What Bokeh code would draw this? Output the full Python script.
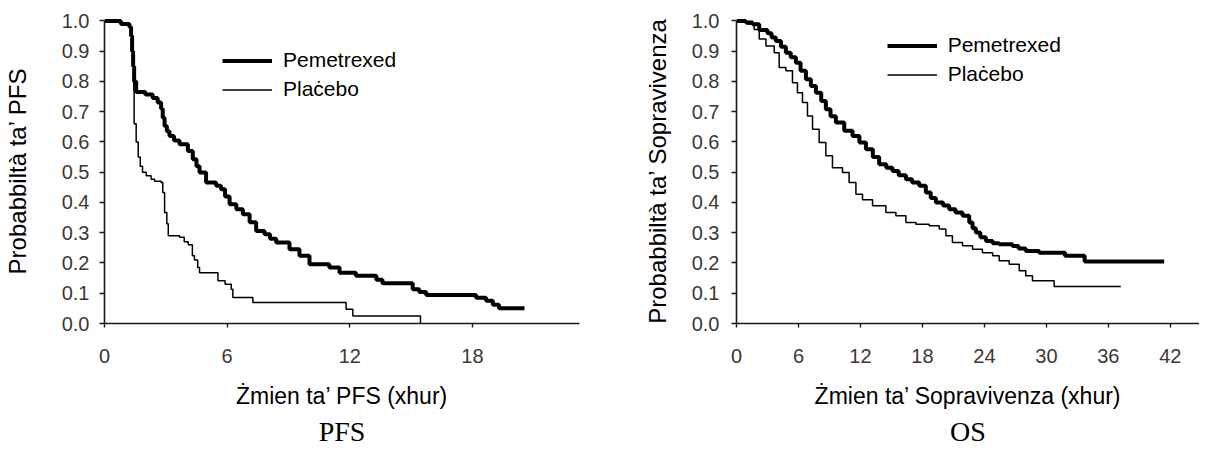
from bokeh.plotting import figure
from bokeh.models import (Range1d, FixedTicker, Legend, LegendItem, Title,
                          NumeralTickFormatter)
from bokeh.layouts import row
from bokeh.embed import file_html
from bokeh.resources import INLINE

# ---------------- data ----------------
# PFS (months, survival probability), step after each time point
pfs_pem_t = [0, 0.8, 1.22, 1.3, 1.35, 1.4, 1.45, 1.55, 2.0, 2.36, 2.6, 2.77, 2.85, 2.94,
             3.05, 3.18, 3.4, 3.67, 4.08, 4.32, 4.5, 4.65, 4.97, 5.46, 5.7, 5.9, 6.12,
             6.45, 6.77, 7.1, 7.42, 7.83, 8.1, 8.4, 9.05, 9.54, 10.03, 11.0, 11.5, 12.3,
             13.3, 13.6, 15.08, 15.4, 15.74, 18.18, 18.67, 19.0, 19.3, 20.55]
pfs_pem_s = [1.0, 0.99, 0.98, 0.95, 0.90, 0.85, 0.80, 0.765, 0.757, 0.745, 0.73, 0.71, 0.68,
             0.653, 0.635, 0.62, 0.605, 0.592, 0.57, 0.543, 0.52, 0.499, 0.466, 0.455, 0.444,
             0.42, 0.394, 0.378, 0.361, 0.335, 0.306, 0.295, 0.28, 0.268, 0.245, 0.224,
             0.196, 0.185, 0.168, 0.158, 0.145, 0.133, 0.113, 0.104, 0.094, 0.085, 0.075,
             0.062, 0.05, 0.05]

pfs_pla_t = [0, 0.8, 1.22, 1.3, 1.38, 1.43, 1.45, 1.55, 1.65, 1.75, 1.86, 2.04, 2.28, 2.45,
             2.77, 2.85, 2.94, 3.05, 3.12, 3.67, 3.9, 4.1, 4.3, 4.4, 4.56, 4.65, 5.55, 5.9,
             6.2, 6.28, 7.26, 11.82, 12.15, 15.46]
pfs_pla_s = [1.0, 0.99, 0.98, 0.95, 0.88, 0.77, 0.66, 0.60, 0.55, 0.52, 0.50, 0.488, 0.477,
             0.47, 0.466, 0.433, 0.367, 0.33, 0.29, 0.285, 0.27, 0.26, 0.224, 0.21, 0.185,
             0.168, 0.141, 0.13, 0.113, 0.086, 0.069, 0.047, 0.025, 0.0]

# OS
os_pem_t = [0, 0.9, 1.55, 2.2, 3.0, 3.4, 3.81, 4.3, 4.78, 5.25, 5.75, 6.2, 6.72, 7.2, 7.69,
            8.2, 8.65, 9.1, 9.62, 10.43, 11.23, 11.9, 12.53, 13.2, 13.81, 14.5, 15.1, 15.7,
            16.4, 17.0, 17.69, 18.33, 18.8, 19.3, 20.0, 20.59, 21.2, 21.88, 22.53, 22.85,
            23.17, 23.6, 24.14, 24.8, 25.43, 26.72, 27.3, 28.0, 29.3, 31.8, 33.7, 41.4]
os_pem_s = [1.0, 0.995, 0.989, 0.97, 0.959, 0.945, 0.934, 0.915, 0.895, 0.88, 0.862, 0.835,
            0.807, 0.785, 0.763, 0.735, 0.708, 0.685, 0.664, 0.637, 0.62, 0.598, 0.576, 0.55,
            0.526, 0.515, 0.504, 0.49, 0.477, 0.466, 0.455, 0.433, 0.415, 0.40, 0.39, 0.378,
            0.367, 0.356, 0.334, 0.315, 0.301, 0.285, 0.273, 0.265, 0.262, 0.256, 0.248,
            0.24, 0.234, 0.224, 0.205, 0.205]

os_pla_t = [0, 1.0, 1.71, 2.2, 2.85, 3.65, 4.13, 4.78, 5.42, 5.9, 6.39, 6.87, 7.36, 8.0,
            8.65, 9.29, 10.26, 10.9, 11.56, 12.2, 13.17, 14.46, 15.43, 16.4, 17.37, 18.65,
            19.62, 20.27, 20.9, 21.88, 22.85, 23.8, 24.8, 25.43, 26.4, 27.37, 28.0, 28.65,
            30.75, 37.2]
os_pla_s = [1.0, 0.99, 0.972, 0.94, 0.917, 0.895, 0.846, 0.835, 0.796, 0.763, 0.73, 0.686,
            0.642, 0.598, 0.554, 0.515, 0.499, 0.466, 0.427, 0.409, 0.389, 0.367, 0.356,
            0.334, 0.328, 0.323, 0.312, 0.29, 0.268, 0.257, 0.245, 0.234, 0.224, 0.207,
            0.196, 0.174, 0.158, 0.141, 0.122, 0.122]

series_labels = ["Pemetrexed", "Plaċebo"]
y_ticks = [0.0, 0.1, 0.2, 0.3, 0.4, 0.5, 0.6, 0.7, 0.8, 0.9, 1.0]
pfs_x_ticks = [0, 6, 12, 18]
os_x_ticks = [0, 6, 12, 18, 24, 30, 36, 42]

SANS = "Liberation Sans"
SERIF = "Liberation Serif"
TICK_COLOR = "#3b3835"


def make_chart(t1, s1, t2, s2, x_end, x_ticks, ylabel, xlabel, caption,
               border_left, frame_w, border_right, y_standoff, tick_standoff,
               legend_loc):
    p = figure(frame_width=frame_w, frame_height=305,
               min_border_left=border_left, min_border_right=border_right,
               min_border_top=18, min_border_bottom=114,
               x_range=Range1d(0, x_end), y_range=Range1d(0, 1.008),
               output_backend="svg", toolbar_location=None,
               background_fill_color="white", border_fill_color="white")
    p.outline_line_color = None
    p.grid.visible = False

    r1 = p.step(t1, s1, mode="after", line_color="black", line_width=4)
    r2 = p.step(t2, s2, mode="after", line_color="black", line_width=1.5)

    for ax in (p.xaxis[0], p.yaxis[0]):
        ax.axis_line_color = "#1a1a1a"
        ax.axis_line_width = 1.6
        ax.major_tick_line_color = "#1a1a1a"
        ax.major_tick_line_width = 1.4
        ax.major_tick_in = 0
        ax.minor_tick_in = 0
        ax.minor_tick_out = 0
        ax.major_label_text_font = SANS
        ax.major_label_text_font_size = "20px"
        ax.major_label_text_color = TICK_COLOR
        ax.axis_label_text_font = SANS
        ax.axis_label_text_font_style = "normal"
        ax.axis_label_text_color = "black"

    xa = p.xaxis[0]
    xa.ticker = FixedTicker(ticks=x_ticks)
    xa.major_tick_out = 4
    xa.major_label_standoff = 21
    xa.axis_label = xlabel
    xa.axis_label_text_font_size = "23px"
    xa.axis_label_standoff = 17

    ya = p.yaxis[0]
    ya.ticker = FixedTicker(ticks=y_ticks)
    ya.formatter = NumeralTickFormatter(format="0.0")
    ya.bounds = (0, 1)
    ya.major_tick_out = 5
    ya.major_label_standoff = tick_standoff
    ya.axis_label = ylabel
    ya.axis_label_text_font_size = "24px"
    ya.axis_label_standoff = y_standoff

    legend = Legend(items=[LegendItem(label=series_labels[0], renderers=[r1]),
                           LegendItem(label=series_labels[1], renderers=[r2])],
                    location=legend_loc, padding=0, margin=0, spacing=0,
                    glyph_width=50, glyph_height=29, label_height=29,
                    label_standoff=11, label_text_font=SANS,
                    label_text_font_size="21px", label_text_color="black",
                    background_fill_alpha=0, border_line_alpha=0)
    p.add_layout(legend, "center")

    cap = Title(text=caption, align="center", text_font=SERIF,
                text_font_size="28px", text_font_style="normal",
                text_color="black", standoff=4)
    p.add_layout(cap, "below")
    return p


p1 = make_chart(pfs_pem_t, pfs_pem_s, pfs_pla_t, pfs_pla_s, 23.24, pfs_x_ticks,
                "Probabbiltà ta’ PFS", "Żmien ta’ PFS (xhur)", "PFS",
                97, 475, 20, 28, 10, (118, 219.5))
p2 = make_chart(os_pem_t, os_pem_s, os_pla_t, os_pla_s, 44.82, os_x_ticks,
                "Probabbiltà ta’ Sopravivenza", "Żmien ta’ Sopravivenza (xhur)", "OS",
                137, 463, 0, 18, 12, (150.7, 234.5))

layout = row(p1, p2, spacing=0)
open("out.html", "w").write(file_html(layout, INLINE))
